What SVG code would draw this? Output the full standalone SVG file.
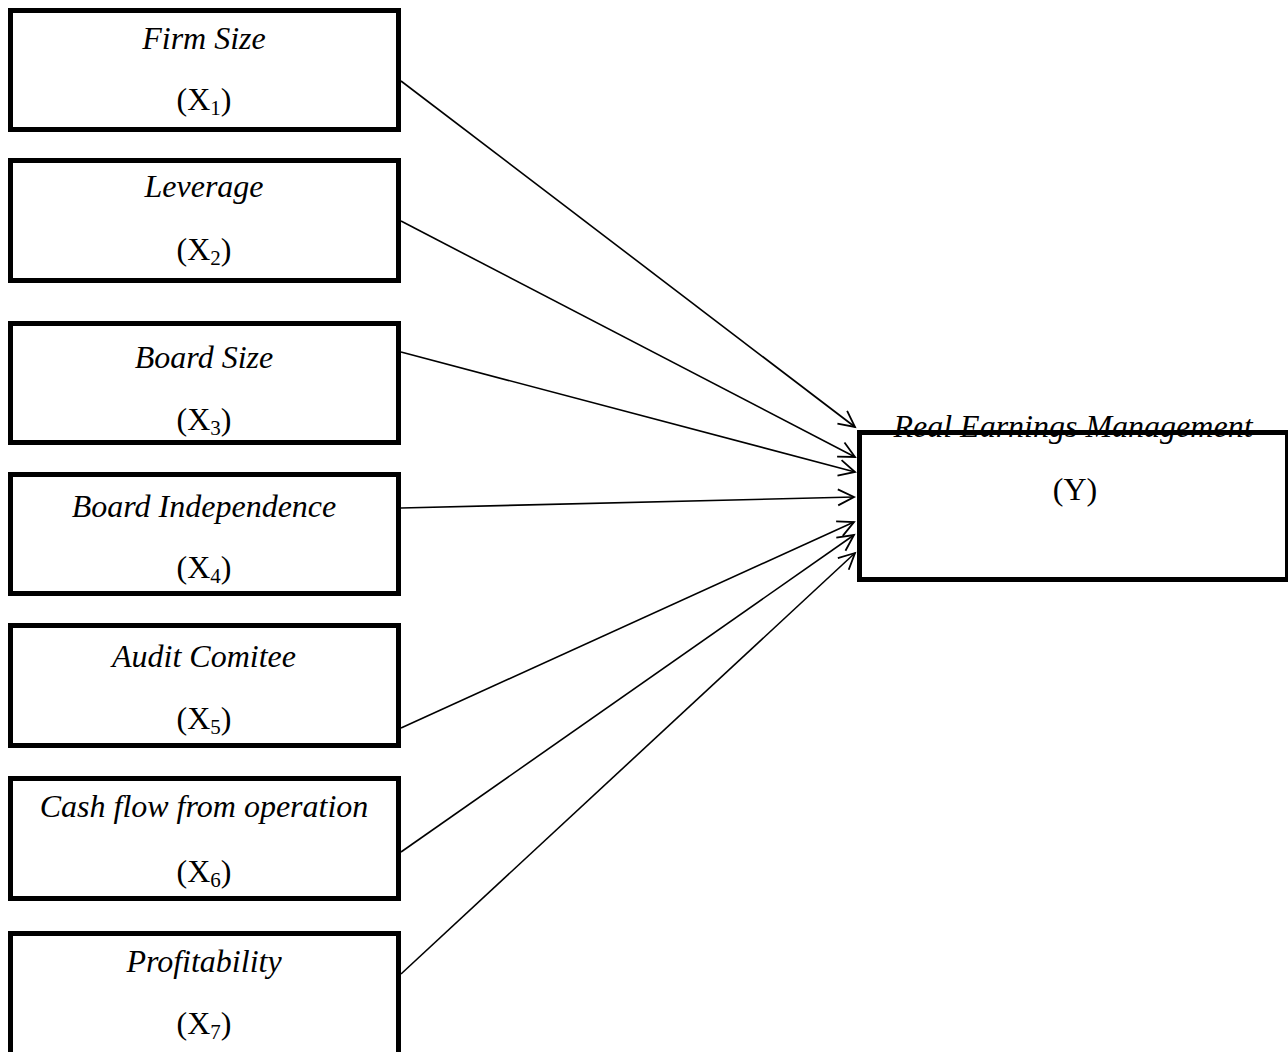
<svg xmlns="http://www.w3.org/2000/svg" width="1288" height="1052" viewBox="0 0 1288 1052">
<defs>
<style>
.box{fill:#fff;stroke:#000;stroke-width:5}
.t{font-family:"Liberation Serif","Times New Roman",serif;font-size:32px;fill:#000;text-anchor:middle}
.i{font-style:italic}
.c{stroke:#000;stroke-width:1.6;fill:none;marker-end:url(#ah)}
</style>
<marker id="ah" markerUnits="userSpaceOnUse" markerWidth="20" markerHeight="20" refX="17" refY="9" orient="auto">
<path d="M1,1 L17,9 L1,17" fill="none" stroke="#000" stroke-width="1.8"/>
</marker>
</defs>
<rect width="1288" height="1052" fill="#fff"/>
<g id="connectors">
<line class="c" x1="401" y1="81" x2="855" y2="427"/>
<line class="c" x1="401" y1="221" x2="855" y2="457"/>
<line class="c" x1="401" y1="352" x2="855" y2="472"/>
<line class="c" x1="401" y1="508" x2="854" y2="497"/>
<line class="c" x1="401" y1="728" x2="854" y2="522"/>
<line class="c" x1="401" y1="852" x2="854" y2="535"/>
<line class="c" x1="401" y1="974" x2="855" y2="553"/>
</g>
<g id="x1">
<rect class="box" x="10.5" y="10.5" width="388" height="119"/>
<text class="t i" x="204" y="49">Firm Size</text>
<text class="t" x="204" y="110">(X<tspan font-size="21" dy="5">1</tspan><tspan dy="-5">)</tspan></text>
</g>
<g id="x2">
<rect class="box" x="10.5" y="160.5" width="388" height="120"/>
<text class="t i" x="204" y="197">Leverage</text>
<text class="t" x="204" y="260">(X<tspan font-size="21" dy="5">2</tspan><tspan dy="-5">)</tspan></text>
</g>
<g id="x3">
<rect class="box" x="10.5" y="323.5" width="388" height="119"/>
<text class="t i" x="204" y="368">Board Size</text>
<text class="t" x="204" y="430">(X<tspan font-size="21" dy="5">3</tspan><tspan dy="-5">)</tspan></text>
</g>
<g id="x4">
<rect class="box" x="10.5" y="474.5" width="388" height="119"/>
<text class="t i" x="204" y="517">Board Independence</text>
<text class="t" x="204" y="578">(X<tspan font-size="21" dy="5">4</tspan><tspan dy="-5">)</tspan></text>
</g>
<g id="x5">
<rect class="box" x="10.5" y="625.5" width="388" height="120"/>
<text class="t i" x="204" y="667">Audit Comitee</text>
<text class="t" x="204" y="729">(X<tspan font-size="21" dy="5">5</tspan><tspan dy="-5">)</tspan></text>
</g>
<g id="x6">
<rect class="box" x="10.5" y="778.5" width="388" height="120"/>
<text class="t i" x="204" y="817">Cash flow from operation</text>
<text class="t" x="204" y="882">(X<tspan font-size="21" dy="5">6</tspan><tspan dy="-5">)</tspan></text>
</g>
<g id="x7">
<rect class="box" x="10.5" y="933.5" width="388" height="130"/>
<text class="t i" x="204" y="972">Profitability</text>
<text class="t" x="204" y="1034">(X<tspan font-size="21" dy="5">7</tspan><tspan dy="-5">)</tspan></text>
</g>
<g id="y">
<rect class="box" x="859.5" y="432.5" width="428" height="147"/>
<text class="t i" x="1073" y="437">Real Earnings Management</text>
<text class="t" x="1075" y="500">(Y)</text>
</g>
</svg>
